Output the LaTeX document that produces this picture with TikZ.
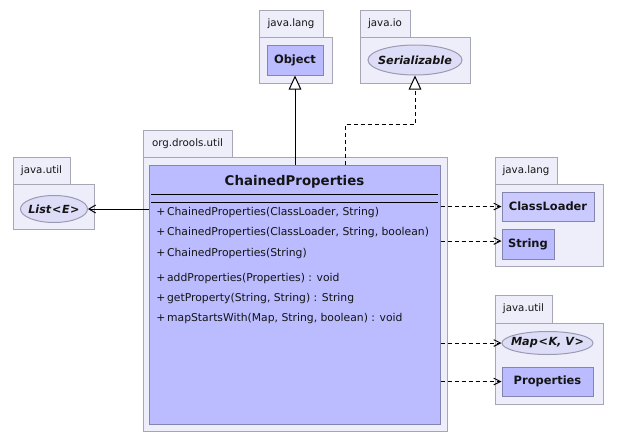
\documentclass[tikz,border=0pt]{standalone}
\usepackage{fontspec}
\setmainfont{DejaVu Sans}
\usetikzlibrary{shapes.geometric,arrows.meta,fit}
\definecolor{pkgfill}{HTML}{EEEEFA}
\definecolor{pkgdraw}{HTML}{A6A6B6}
\definecolor{clsfill}{HTML}{BBBBFF}
\definecolor{clsfill2}{HTML}{CACAFF}
\definecolor{clsdraw}{HTML}{8484B0}
\definecolor{ellfill}{HTML}{DDDDF8}
\definecolor{elldraw}{HTML}{9A9AB2}
\definecolor{txt}{HTML}{141414}
\begin{document}
\begin{tikzpicture}[x=0.75pt,y=-0.75pt,
  pkgbody/.style={draw=pkgdraw, fill=pkgfill, line width=0.75pt, inner sep=0pt},
  pkgtext/.style={font=\fontsize{7.7}{9}\selectfont, inner sep=0pt, text=txt},
  clsbox/.style={draw=clsdraw, fill=clsfill, line width=0.75pt, inner sep=0pt},
  clstext/.style={font=\bfseries\fontsize{8.6}{10}\selectfont, inner sep=0pt, text=txt},
  intf/.style={ellipse, draw=elldraw, fill=ellfill, line width=0.75pt, inner sep=0pt},
  intftext/.style={inner sep=0pt, text=txt, font=\bfseries\itshape\fontsize{8.4}{10}\selectfont},
  title/.style={font=\bfseries\fontsize{10}{12}\selectfont, inner sep=0pt, text=txt},
  member/.style={anchor=west, font=\fontsize{8.1}{10}\selectfont, inner sep=0pt, text=txt},
  conn/.style={line width=0.75pt, black},
  gen/.style={conn, -{Triangle[open, length=10.5pt, width=9.5pt, fill=white]}},
  dep/.style={conn, dash pattern=on 3pt off 2.25pt, -{Straight Barb[length=5pt, width=5pt]}},
  assoc/.style={conn, -{Straight Barb[length=5pt, width=6pt]}}
]
\useasboundingbox (0,0) rectangle (618,443);

% java.lang (top)
\node[pkgbody, fit={(259,10) (323,37)}] (tlang) {};
\node[pkgtext] at (tlang.center) {java.lang};
\node[pkgbody, fit={(259,37) (332,83)}] (blang) {};
\node[clsbox, fit={(267,45) (323,75)}] (obj) {};
\node[clstext] at (obj.center) {Object};

% java.io
\node[pkgbody, fit={(360,10) (410,37)}] (tio) {};
\node[pkgtext] at (tio.center) {java.io};
\node[pkgbody, fit={(360,37) (470,83)}] (bio) {};
\node[intf, minimum width=94*0.75pt, minimum height=30*0.75pt] (ser) at (415,60) {};
\node[intftext] at (ser.center) {Serializable};

% java.util (left)
\node[pkgbody, fit={(13,157) (70,184)}] (tutil1) {};
\node[pkgtext] at (tutil1.center) {java.util};
\node[pkgbody, fit={(13,184) (94,229)}] (butil1) {};
\node[intf, minimum width=67*0.75pt, minimum height=27*0.75pt] (list) at (54,209) {};
\node[intftext] at (list.center) {List\kern0.6pt<\kern0.4pt E\kern0.4pt>};

% org.drools.util
\node[pkgbody, fit={(143,130) (232,157)}] (tdrools) {};
\node[pkgtext] at (tdrools.center) {org.drools.util};
\node[pkgbody, fit={(143,157) (447,431)}] (bdrools) {};
\node[clsbox, fit={(149,165) (440,424)}] (cp) {};
\node[title] (cptitle) at (294.5,182) {ChainedProperties};
\coordinate (l1a) at (151,194);
\coordinate (l1b) at (438,194);
\coordinate (l2a) at (151,202);
\coordinate (l2b) at (438,202);
\draw[conn] (l1a) -- (l1b);
\draw[conn] (l2a) -- (l2b);
\node[member] (m1) at (156,213) {+\,ChainedProperties(ClassLoader, String)};
\node[member] (m2) at (156,233) {+\,ChainedProperties(ClassLoader, String, boolean)};
\node[member] (m3) at (156,254) {+\,ChainedProperties(String)};
\node[member] (m4) at (156,279) {+\,addProperties(Properties) : void};
\node[member] (m5) at (156,299) {+\,getProperty(String, String) : String};
\node[member] (m6) at (156,319) {+\,mapStartsWith(Map, String, boolean) : void};

% java.lang (right)
\node[pkgbody, fit={(495,157) (557,184)}] (tlang2) {};
\node[pkgtext] at (tlang2.center) {java.lang};
\node[pkgbody, fit={(495,184) (603,266)}] (blang2) {};
\node[clsbox, fill=clsfill2, fit={(502,192) (594,221)}] (cl) {};
\node[clstext] at (cl.center) {ClassLoader};
\node[clsbox, fit={(502,229) (554,259)}] (str) {};
\node[clstext] at (str.center) {String};

% java.util (right)
\node[pkgbody, fit={(495,295) (552,323)}] (tutil2) {};
\node[pkgtext] at (tutil2.center) {java.util};
\node[pkgbody, fit={(495,323) (603,404)}] (butil2) {};
\node[intf, minimum width=91*0.75pt, minimum height=23*0.75pt] (map) at (547.5,343) {};
\node[intftext] at (map.center) {Map\kern0.6pt<\kern0.4pt K, V\kern0.4pt>};
\node[clsbox, fit={(502,367) (593,396)}] (props) {};
\node[clstext] at (props.center) {Properties};

% connectors
\draw[gen] (cp.north -| obj.south) -- (obj.south);
\coordinate (bend) at (345,124);
\draw[gen, dash pattern=on 3pt off 2.25pt] (cp.north -| bend) -- (bend) -| (ser.south);
\draw[assoc] (cp.west |- list) -- (list.east);
\draw[dep] (cp.east |- cl) -- (cl.west);
\draw[dep] ([yshift=2.25pt]cp.east |- str) -- ([yshift=2.25pt]str.west);
\draw[dep] (cp.east |- map) -- (map.west);
\draw[dep] (cp.east |- props) -- (props.west);
\end{tikzpicture}
\end{document}
